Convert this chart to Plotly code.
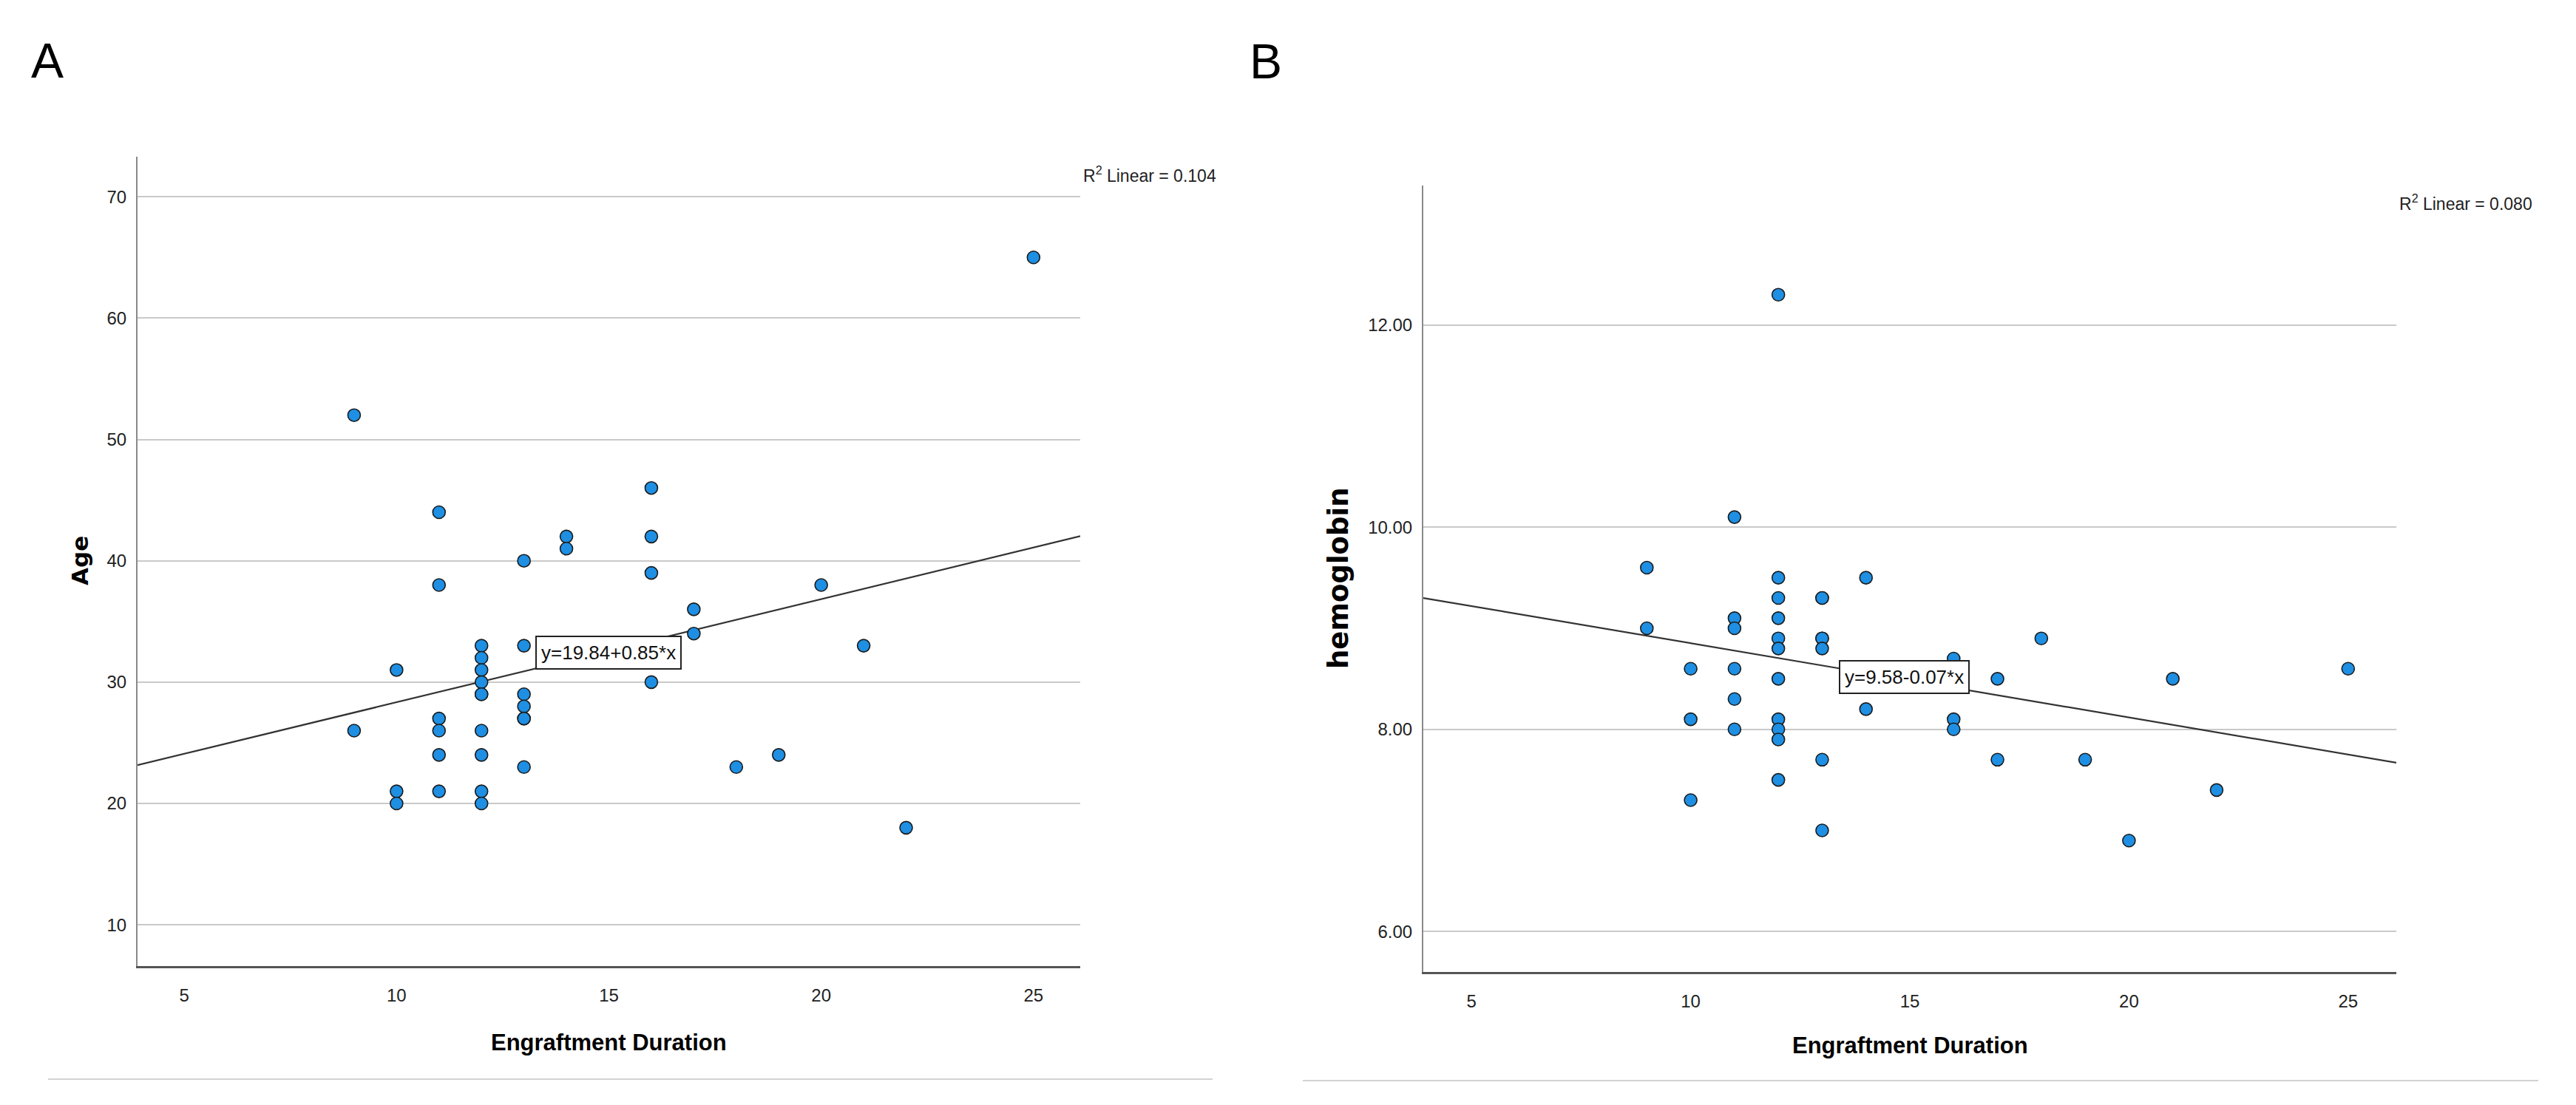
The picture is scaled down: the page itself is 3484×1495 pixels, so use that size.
import plotly.graph_objects as go

# ---------------- data ----------------
# Panel A: Engraftment Duration vs Age
a_x = [9, 9,
       10, 10, 10,
       11, 11, 11, 11, 11, 11,
       12, 12, 12, 12, 12, 12, 12, 12, 12, 12,
       13, 13, 13, 13, 13, 13, 13,
       14, 14,
       16, 16, 16, 16,
       17, 17,
       18, 19, 20, 21, 22, 25]
a_y = [52, 26,
       31, 21, 20,
       44, 38, 27, 26, 24, 21,
       33, 32, 31, 30, 29, 29, 26, 24, 21, 20,
       40, 33, 29, 28, 27, 27, 23,
       42, 41,
       46, 42, 39, 30,
       36, 34,
       23, 24, 38, 33, 18, 65]

# Panel B: Engraftment Duration vs hemoglobin
b_x = [9, 9,
       10, 10, 10,
       11, 11, 11, 11, 11, 11,
       12, 12, 12, 12, 12, 12, 12, 12, 12, 12, 12,
       13, 13, 13, 13, 13, 13, 13,
       14, 14,
       16, 16, 16,
       17, 17,
       18, 19, 20, 21, 22, 25]
b_y = [9.6, 9.0,
       8.6, 8.1, 7.3,
       10.1, 9.1, 9.0, 8.6, 8.3, 8.0,
       12.3, 9.5, 9.3, 9.1, 8.9, 8.8, 8.5, 8.1, 8.0, 7.9, 7.5,
       9.3, 9.3, 8.9, 8.9, 8.8, 7.7, 7.0,
       9.5, 8.2,
       8.7, 8.1, 8.0,
       8.5, 7.7,
       8.9, 7.7, 6.9, 8.5, 7.4, 8.6]

# fitted lines (intercept, slope) and labels
a_fit = (19.84, 0.85)
b_fit = (9.586, -0.0734)
a_eq_label = "y=19.84+0.85*x"
b_eq_label = "y=9.58-0.07*x"
a_r2_label = "R<sup>2</sup> Linear = 0.104"
b_r2_label = "R<sup>2</sup> Linear = 0.080"

x_ticks = [5, 10, 15, 20, 25]
a_yticks = [10, 20, 30, 40, 50, 60, 70]
b_yticks = [6, 8, 10, 12]
b_yticklabels = ["6.00", "8.00", "10.00", "12.00"]

x_range = [3.9, 26.1]
a_yrange = [6.6, 73.3]
b_yrange = [5.6, 13.38]

# equation box anchor (lower-left corner, data coords)
a_eq_pos = (13.27, 31.0)
b_eq_pos = (13.38, 8.35)

# ---------------- styling ----------------
W, H = 3484, 1495
SANS = "Liberation Sans, Arial, sans-serif"
WIDE_BOLD = "DejaVu Sans, Liberation Sans, sans-serif"
MARK = "#1E8FE3"

fig = go.Figure()

def add_panel(xs, ys, fit, xa, ya):
    lx = x_range
    ly = [fit[0] + fit[1] * v for v in lx]
    fig.add_trace(go.Scatter(x=lx, y=ly, mode="lines", xaxis=xa, yaxis=ya,
                             line=dict(color="#333333", width=2.2),
                             showlegend=False, hoverinfo="skip"))
    fig.add_trace(go.Scatter(x=xs, y=ys, mode="markers", xaxis=xa, yaxis=ya,
                             marker=dict(color=MARK, size=17,
                                         line=dict(color="#1a1a1a", width=1.6)),
                             showlegend=False))

add_panel(a_x, a_y, a_fit, "x", "y")
add_panel(b_x, b_y, b_fit, "x2", "y2")

def px_x(p):
    return p / W

def px_y(p):
    return 1 - p / H

axis_common_x = dict(range=x_range, tickvals=x_ticks, showgrid=False, zeroline=False,
                     showline=True, linecolor="#555555", linewidth=3,
                     ticks="", ticklabelstandoff=16,
                     tickfont=dict(family=SANS, size=24, color="#222222"))
axis_common_y = dict(showgrid=True, gridcolor="#c9c9c9", gridwidth=2, zeroline=False,
                     showline=True, linecolor="#8a8a8a", linewidth=2,
                     ticks="", ticklabelstandoff=8,
                     tickfont=dict(family=SANS, size=24, color="#222222"))

fig.update_layout(
    width=W, height=H,
    margin=dict(l=0, r=0, t=0, b=0),
    paper_bgcolor="white", plot_bgcolor="white",
    xaxis=dict(domain=[px_x(186), px_x(1461)], anchor="y", **axis_common_x),
    yaxis=dict(domain=[px_y(1307), px_y(212)], anchor="x", range=a_yrange,
               tickvals=a_yticks, **axis_common_y),
    xaxis2=dict(domain=[px_x(1925), px_x(3241)], anchor="y2", **axis_common_x),
    yaxis2=dict(domain=[px_y(1315), px_y(251)], anchor="x2", range=b_yrange,
                tickvals=b_yticks, ticktext=b_yticklabels, **axis_common_y),
)

def note(text, x, y, size, family=SANS, xanchor="center", yanchor="middle", **kw):
    return dict(text=text, x=x, y=y, xref=kw.pop("xref", "paper"), yref=kw.pop("yref", "paper"),
                xanchor=xanchor, yanchor=yanchor, showarrow=False,
                font=dict(family=family, size=size, color=kw.pop("color", "black")), **kw)

annotations = [
    # panel letters
    note("A", px_x(64), px_y(82), 66),
    note("B", px_x(1712), px_y(83), 66),
    # R^2 labels
    note(a_r2_label, px_x(1463), px_y(236), 23, xanchor="left", color="#222222"),
    note(b_r2_label, px_x(3243), px_y(274), 23, xanchor="left", color="#222222"),
    # equation boxes
    note(a_eq_label, a_eq_pos[0], a_eq_pos[1], 26, xref="x", yref="y",
         xanchor="left", yanchor="bottom", color="#111111",
         bgcolor="white", bordercolor="#222222", borderwidth=2, borderpad=6),
    note(b_eq_label, b_eq_pos[0], b_eq_pos[1], 26, xref="x2", yref="y2",
         xanchor="left", yanchor="bottom", color="#111111",
         bgcolor="white", bordercolor="#222222", borderwidth=2, borderpad=6),
    # axis titles
    note("<b>Engraftment Duration</b>", px_x((186 + 1461) / 2), px_y(1410), 31),
    note("<b>Engraftment Duration</b>", px_x((1925 + 3241) / 2), px_y(1414), 31),
    note("<b>Age</b>", px_x(108), px_y(759), 31, family=WIDE_BOLD, textangle=-90),
    note("<b>hemoglobin</b>", px_x(1810), px_y(782), 37, family=WIDE_BOLD, textangle=-90),
]
fig.update_layout(annotations=annotations)

# separator lines below each panel
fig.add_shape(type="line", xref="paper", yref="paper",
              x0=px_x(65), x1=px_x(1640), y0=px_y(1460), y1=px_y(1460),
              line=dict(color="#d2d2d2", width=2))
fig.add_shape(type="line", xref="paper", yref="paper",
              x0=px_x(1762), x1=px_x(3433), y0=px_y(1462), y1=px_y(1462),
              line=dict(color="#d2d2d2", width=2))

fig.write_html("out.html",
               config={"displayModeBar": False},
               post_script="document.body.style.margin='0px';document.body.style.overflow='hidden';")
